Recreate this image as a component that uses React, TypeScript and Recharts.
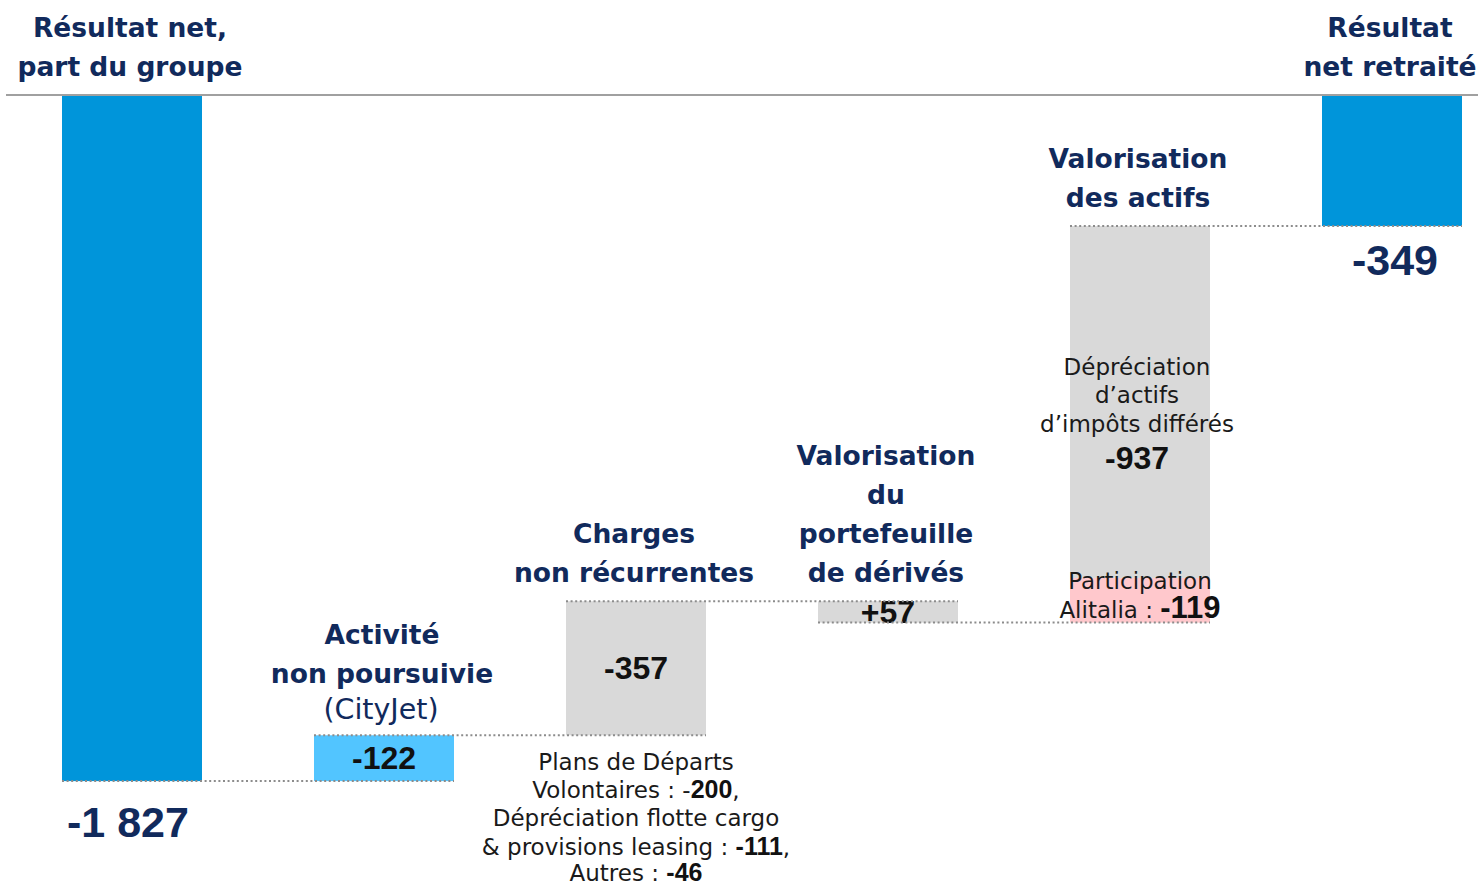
import React from 'react';
import { BarChart, Bar, XAxis, YAxis, Cell, ReferenceLine } from 'recharts';

// ---------- data ----------
const categories = [
  'Résultat net, part du groupe',
  'Activité non poursuivie (CityJet)',
  'Charges non récurrentes',
  'Valorisation du portefeuille de dérivés',
  'Valorisation des actifs',
  'Résultat net retraité',
];
const kinds = ['total', 'delta', 'delta', 'delta', 'delta', 'total'];
const mainValues = [-1827, -122, -357, 57, -937, -349];
const subValues = [0, 0, 0, 0, -119, 0]; // Participation Alitalia
const valueLabels = ['-1 827', '-122', '-357', '+57', '-937', '-349'];
const subValueLabel = '-119';
const titleLines = [
  ['Résultat net,', 'part du groupe'],
  ['Activité', 'non poursuivie'],
  ['Charges', 'non récurrentes'],
  ['Valorisation', 'du', 'portefeuille', 'de dérivés'],
  ['Valorisation', 'des actifs'],
  ['Résultat', 'net retraité'],
];
const subtitle = '(CityJet)';
const chargesDetail: [string, string, string][] = [
  ['Plans de Départs', '', ''],
  ['Volontaires : -', '200', ','],
  ['Dépréciation flotte cargo', '', ''],
  ['& provisions leasing : ', '-111', ','],
  ['Autres : ', '-46', ''],
];
const depreciationLines = ['Dépréciation', 'd’actifs', 'd’impôts différés'];
const alitaliaLines = ['Participation', 'Alitalia : '];
const barColors = ['#0095DA', '#52C5FF', '#D9D9D9', '#D9D9D9', '#D9D9D9', '#0095DA'];
const SUB_COLOR = '#FFC8CC';

// ---------- derived waterfall rows ----------
let loss = 0;
const levels: number[] = [];
const rows = categories.map((name, i) => {
  let row;
  if (kinds[i] === 'total') {
    loss = -mainValues[i];
    row = { name, idx: i, base: 0, main: loss, sub: 0 };
  } else {
    const next = loss + mainValues[i] + subValues[i];
    row = { name, idx: i, base: Math.min(loss, next), main: Math.abs(mainValues[i]), sub: Math.abs(subValues[i]) };
    loss = next;
  }
  levels.push(loss);
  return row;
});

// ---------- styles ----------
const NAVY = '#112A5C';
const TITLE_FONT = "'DejaVu Sans', sans-serif";
const NUM_FONT = "'Liberation Sans', Arial, sans-serif";
const GAP = 0.2222;

const titleStyle = { fontFamily: TITLE_FONT, fontWeight: 700, fontSize: 26.5, fill: NAVY };
const bodyStyle = { fontFamily: TITLE_FONT, fontWeight: 400, fontSize: 23, fill: '#1a1a1a' };
const numStyle = { fontFamily: NUM_FONT, fontWeight: 700, fontSize: 32, fill: '#111' };
const bigNumStyle = { fontFamily: NUM_FONT, fontWeight: 700, fontSize: 43, fill: NAVY };
const smallNumStyle = { fontFamily: NUM_FONT, fontWeight: 700, fontSize: 25, fill: '#111' };

function geom(props: any) {
  const { x, y, width, height } = props;
  const top = Math.min(y, y + height);
  const h = Math.abs(height);
  return { x, width, top, h, bottom: top + h, cx: x + width / 2, cy: top + h / 2 };
}

function MainShape(props: any) {
  const i = props.index ?? props.payload?.idx;
  const g = geom(props);
  const els: any[] = [];
  els.push(<rect key="r" x={g.x} y={g.top} width={g.width} height={g.h} fill={props.fill} />);
  const lines = titleLines[i];
  const lastOffset = i === 1 ? 52 : 19;
  lines.forEach((ln, k) => {
    els.push(
      <text key={'t' + k} x={g.cx - 2} y={g.top - lastOffset - 39 * (lines.length - 1 - k)} textAnchor="middle" style={titleStyle}>
        {ln}
      </text>
    );
  });
  if (i === 1) {
    els.push(
      <text key="sub" x={g.cx - 3} y={g.top - 16} textAnchor="middle" style={{ ...bodyStyle, fontSize: 28.5, fill: NAVY }}>
        {subtitle}
      </text>
    );
  }
  if (kinds[i] === 'total') {
    els.push(
      <text key="v" x={g.cx + (i === 0 ? -4 : 3)} y={g.bottom + (i === 0 ? 56 : 49)} textAnchor="middle" style={bigNumStyle}>
        {valueLabels[i]}
      </text>
    );
  } else if (i === 4) {
    const offs = [-26.5, 1.5, 30.5];
    depreciationLines.forEach((ln, k) => {
      els.push(
        <text key={'d' + k} x={g.cx - 3} y={g.cy + offs[k]} textAnchor="middle" style={bodyStyle}>
          {ln}
        </text>
      );
    });
    els.push(
      <text key="v" x={g.cx - 3} y={g.cy + 67.5} textAnchor="middle" style={numStyle}>
        {valueLabels[i]}
      </text>
    );
  } else {
    els.push(
      <text key="v" x={g.cx} y={g.cy + 11} textAnchor="middle" style={numStyle}>
        {valueLabels[i]}
      </text>
    );
  }
  if (i === 2) {
    const offs = [35, 63, 91, 120, 146];
    chargesDetail.forEach((parts, k) => {
      els.push(
        <text key={'c' + k} x={g.cx} y={g.bottom + offs[k]} textAnchor="middle" style={bodyStyle}>
          <tspan>{parts[0]}</tspan>
          {parts[1] ? <tspan style={smallNumStyle}>{parts[1]}</tspan> : null}
          {parts[2] ? <tspan>{parts[2]}</tspan> : null}
        </text>
      );
    });
  }
  return <g>{els}</g>;
}

function SubShape(props: any) {
  const i = props.index ?? props.payload?.idx;
  const g = geom(props);
  if (!g.h) return <g />;
  return (
    <g>
      <rect x={g.x} y={g.top} width={g.width} height={g.h} fill={props.fill} />
      <text x={g.cx} y={g.bottom - 34} textAnchor="middle" style={bodyStyle}>
        {alitaliaLines[0]}
      </text>
      <text x={g.cx} y={g.bottom - 5} textAnchor="middle" style={bodyStyle}>
        <tspan>{alitaliaLines[1]}</tspan>
        <tspan style={{ ...numStyle, fontSize: 31 }}>{i === 4 ? subValueLabel : ''}</tspan>
      </text>
    </g>
  );
}

export default function App() {
  return (
    <div style={{ position: 'absolute', left: 0, top: 0, width: 1478, height: 890, overflow: 'hidden', background: '#fff' }}>
      <BarChart
        width={1520}
        height={890}
        data={rows}
        margin={{ top: 95, right: 2, bottom: 0, left: 6 }}
        barCategoryGap={`${GAP * 100}%`}
      >
        <XAxis xAxisId="cat" dataKey="name" orientation="top" height={0} tick={false} tickLine={false} axisLine={false} />
        <XAxis xAxisId="num" type="number" dataKey="idx" domain={[0, 6]} hide />
        <YAxis type="number" domain={[0, 2117]} reversed hide />
        <Bar xAxisId="cat" dataKey="base" stackId="w" fill="none" isAnimationActive={false} />
        <Bar xAxisId="cat" dataKey="main" stackId="w" isAnimationActive={false} shape={MainShape}>
          {rows.map((r, i) => (
            <Cell key={i} fill={barColors[i]} />
          ))}
        </Bar>
        <Bar xAxisId="cat" dataKey="sub" stackId="w" fill={SUB_COLOR} isAnimationActive={false} shape={SubShape} />
        <ReferenceLine xAxisId="num" y={0} stroke="#A0A0A0" strokeWidth={2} ifOverflow="visible" />
        {levels.slice(0, levels.length - 1).map((lv, i) => (
          <ReferenceLine
            key={i}
            xAxisId="num"
            segment={[
              { x: i + GAP, y: lv },
              { x: i + 2 - GAP, y: lv },
            ]}
            stroke="#8C8C8C"
            strokeWidth={2}
            strokeDasharray="2 2.6"
            ifOverflow="visible"
          />
        ))}
      </BarChart>
    </div>
  );
}
